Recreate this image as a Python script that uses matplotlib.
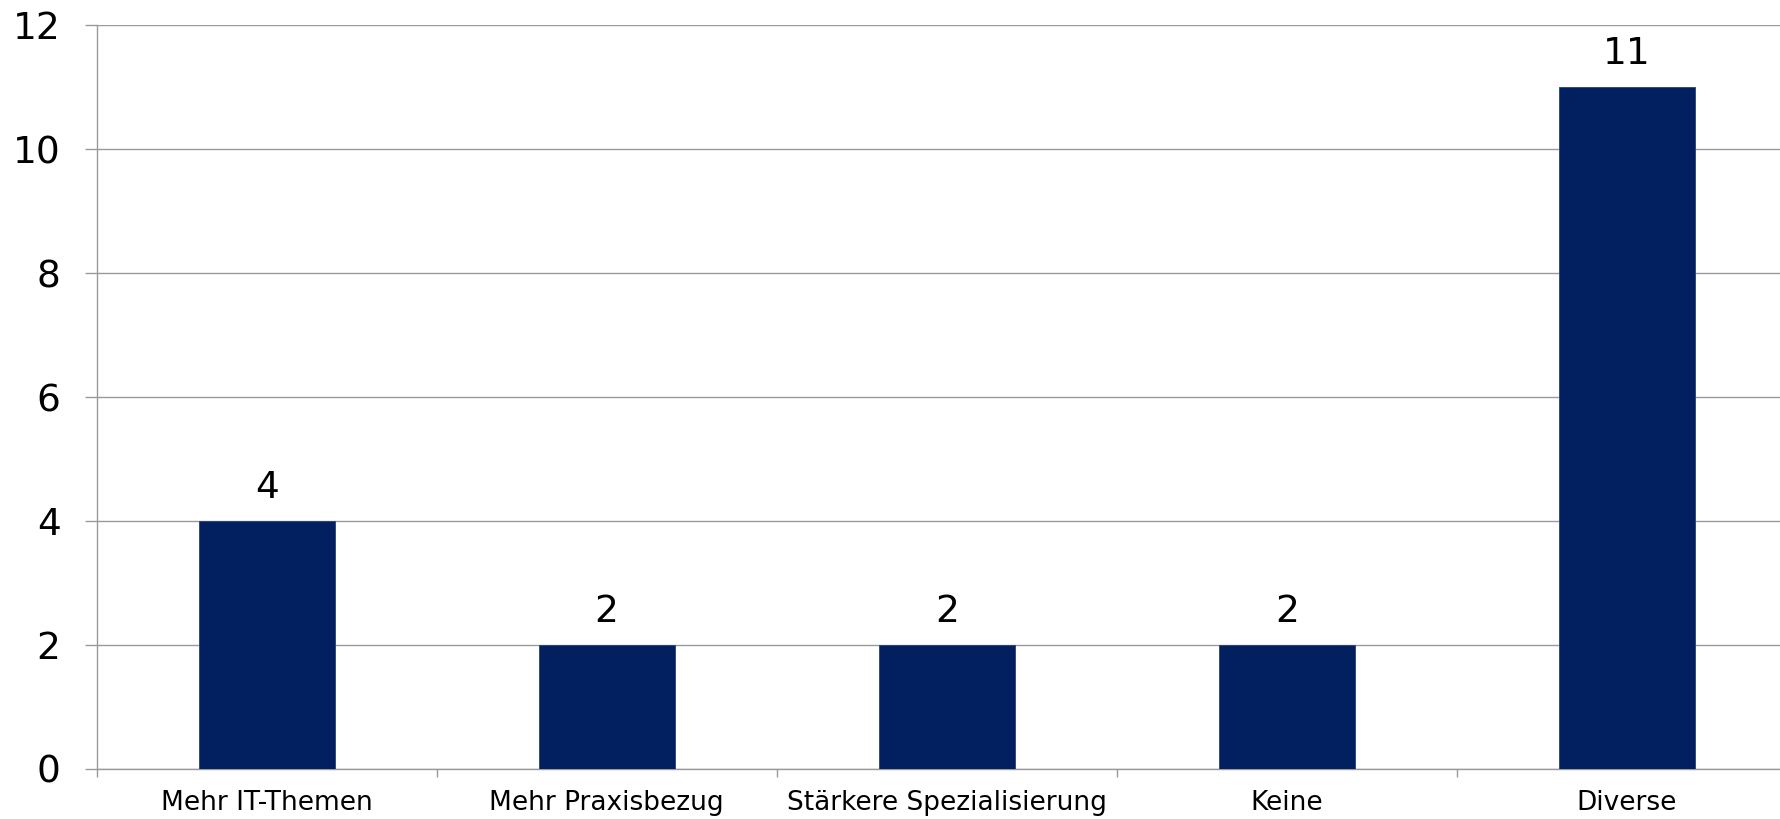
"""
Bar chart: Verbesserungsvorschläge (Anzahl Nennungen)
"""
import matplotlib
matplotlib.use("Agg")
import matplotlib.pyplot as plt
import numpy as np

categories = ["Mehr IT-Themen", "Mehr Praxisbezug", "Stärkere Spezialisierung", "Keine", "Diverse"]
counts = [4, 2, 2, 2, 11]
y_ticks = [0, 2, 4, 6, 8, 10, 12]

bar_color = "#02205f"
line_color = "#9a9a9a"

fig = plt.figure(figsize=(17.8, 8.19), dpi=100)
# right edge of the axis runs slightly past the image border, as in the original
ax = fig.add_axes([0.0543, 0.0611, 0.9551, 0.908])

x = np.arange(len(categories))
bars = ax.bar(x, counts, width=0.4, color=bar_color, edgecolor="#2a4070", linewidth=0.6, zorder=3)
ax.bar_label(bars, labels=[str(c) for c in counts], padding=11, fontsize=27)

ax.set_xlim(-0.5, len(categories) - 0.5)
ax.set_ylim(0, 12)
ax.set_yticks(y_ticks)
ax.set_yticklabels([str(t) for t in y_ticks], fontsize=27)
ax.yaxis.grid(True, color=line_color, linewidth=1.0, zorder=0)

# ticks on category boundaries, labels centred under the bars
ax.set_xticks(np.arange(len(categories) + 1) - 0.5)
ax.set_xticklabels([])
ax.set_xticks(x, minor=True)
ax.set_xticklabels(categories, minor=True, fontsize=19)
ax.tick_params(axis="x", which="minor", length=0, pad=15)
ax.tick_params(axis="x", which="major", length=6, color=line_color, width=1.0)
ax.tick_params(axis="y", length=9, color=line_color, width=1.0, pad=17)

for side in ["top", "right"]:
    ax.spines[side].set_visible(False)
for side in ["left", "bottom"]:
    ax.spines[side].set_color(line_color)
    ax.spines[side].set_linewidth(1.0)

fig.savefig("out.png", dpi=100)
